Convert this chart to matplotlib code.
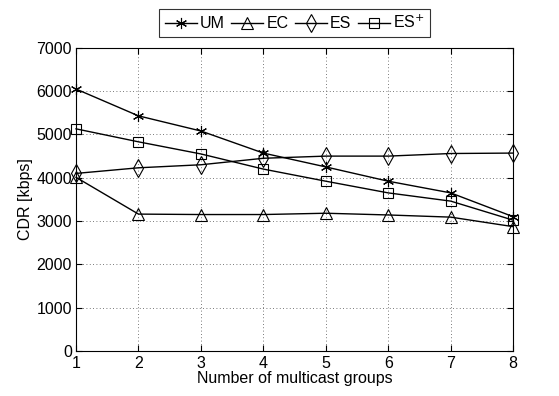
import matplotlib.pyplot as plt

plt.rcParams['font.family'] = ['Liberation Sans', 'DejaVu Sans']

groups = [1, 2, 3, 4, 5, 6, 7, 8]
um = [6050, 5430, 5080, 4570, 4250, 3920, 3650, 3100]
ec = [4010, 3160, 3150, 3150, 3180, 3140, 3090, 2870]
es = [4100, 4230, 4300, 4450, 4500, 4500, 4560, 4570]
es_plus = [5130, 4830, 4550, 4200, 3920, 3650, 3460, 3020]

fig = plt.figure(figsize=(5.59, 3.96), dpi=100)
ax = fig.add_axes([0.136, 0.114, 0.782, 0.765])

ax.plot(groups, um, 'k-', marker=(6, 2, 0), ms=8, mew=0.8, lw=1, label='UM', clip_on=False)
ax.plot(groups, ec, 'k-', marker='^', ms=9, mfc='none', mew=0.8, lw=1, label='EC', clip_on=False)
ax.plot(groups, es, 'k-', marker='d', ms=9, mfc='none', mew=0.8, lw=1, label='ES', clip_on=False)
ax.plot(groups, es_plus, 'k-', marker='s', ms=7, mfc='none', mew=0.8, lw=1, label='ES$^{+}$', clip_on=False)

ax.set_xlim(1, 8)
ax.set_ylim(0, 7000)
ax.set_xticks(groups)
ax.set_yticks(range(0, 7001, 1000))
ax.grid(True, color='0.3', linestyle=(0, (1, 3)), linewidth=0.6)
ax.tick_params(direction='in', top=True, right=True, labelsize=11.5, length=4)
ax.tick_params(axis='x', pad=4)
ax.tick_params(axis='y', pad=3)
for s in ax.spines.values():
    s.set_linewidth(0.8)

ax.set_xlabel('Number of multicast groups', fontsize=11.5, labelpad=0)
ax.set_ylabel('CDR [kbps]', fontsize=11.5, labelpad=2)

leg = ax.legend(loc='lower center', bbox_to_anchor=(0.5, 1.036), ncol=4, fontsize=11.5,
                frameon=True, fancybox=False, edgecolor='k', handlelength=2,
                handletextpad=0.2, columnspacing=0.4, borderpad=0.35, borderaxespad=0)
leg.get_frame().set_linewidth(0.8)

fig.savefig('out.png')
